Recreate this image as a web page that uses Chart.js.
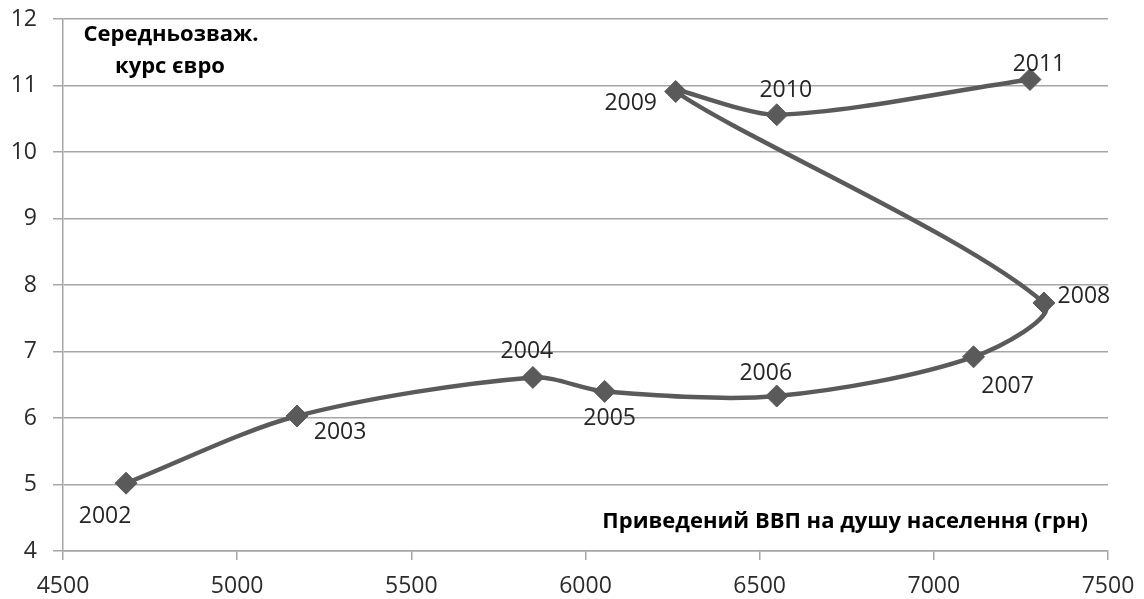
<!DOCTYPE html>
<html><head><meta charset="utf-8">
<script src="https://cdn.jsdelivr.net/npm/chart.js@4"></script>
<style>html,body{margin:0;padding:0;background:#fff;} #wrap{width:1144px;height:599px;position:relative;}</style>
</head><body><div id="wrap"><canvas id="c"></canvas></div>
<script>
const years = ['2002','2003','2004','2005','2006','2007','2008','2009','2010','2011'];
const gdpPerCapita = [4681, 5172, 5849, 6055, 6549, 7114, 7316, 6259, 6549, 7276];
const euroRate = [5.02, 6.03, 6.61, 6.40, 6.33, 6.92, 7.73, 10.91, 10.56, 11.09];
const xTickValues = [4500, 5000, 5500, 6000, 6500, 7000, 7500];
const yTickValues = [4, 5, 6, 7, 8, 9, 10, 11, 12];
const yTitleLines = ['Середньозваж.', 'курс євро'];
const xTitle = 'Приведений ВВП на душу населення (грн)';
// label placement relative to each marker (px)
const labelOffsets = [[-21,33],[43,16],[-6,-26],[5,27],[-11,-23],[34,30],[40,-7],[-45,12],[9,-24],[9,-15]];

const FONT = "'Open Sans', sans-serif";
const points = gdpPerCapita.map((x, i) => ({x: x, y: euroRate[i]}));

const labelPlugin = {
  id: 'labels',
  afterDatasetsDraw(chart) {
    const ctx = chart.ctx;
    const meta = chart.getDatasetMeta(0);
    ctx.save();
    ctx.font = "23px " + FONT;
    ctx.fillStyle = '#262626';
    ctx.textAlign = 'center';
    ctx.textBaseline = 'middle';
    meta.data.forEach((el, i) => {
      ctx.fillText(years[i], el.x + labelOffsets[i][0], el.y + labelOffsets[i][1]);
    });
    const a = chart.chartArea;
    ctx.font = "bold 22px " + FONT;
    ctx.fillStyle = '#000';
    ctx.fillText(yTitleLines[0], a.left + 108, a.top + 16);
    ctx.fillText(yTitleLines[1], a.left + 107, a.top + 48);
    ctx.textAlign = 'right';
    ctx.fillText(xTitle, a.right - 20, a.bottom - 29);
    ctx.restore();
  }
};

new Chart(document.getElementById('c'), {
  type: 'scatter',
  data: {
    datasets: [{
      data: points,
      showLine: true,
      borderColor: '#5a5a5a',
      borderWidth: 4.5,
      tension: 0.3,
      pointStyle: 'rectRot',
      pointRadius: 11,
      pointHoverRadius: 11,
      pointBackgroundColor: '#5a5a5a',
      pointBorderColor: '#5a5a5a',
      pointBorderWidth: 1
    }]
  },
  options: {
    responsive: true,
    maintainAspectRatio: false,
    animation: false,
    events: [],
    layout: {padding: {top: 19, right: 36, left: 0, bottom: 0}},
    plugins: {legend: {display: false}, tooltip: {enabled: false}},
    scales: {
      x: {
        type: 'linear', min: 4500, max: 7500,
        afterBuildTicks: s => { s.ticks = xTickValues.map(v => ({value: v})); },
        afterFit: s => { s.height = 48; s.paddingLeft = 0; s.paddingRight = 0; },
        ticks: {font: {family: FONT, size: 23}, color: '#2b2b2b', padding: 13, maxRotation: 0,
                callback: v => String(v)},
        grid: {drawOnChartArea: false, drawTicks: true, tickLength: 9, color: '#a6a6a6', lineWidth: 1.5},
        border: {color: '#a6a6a6', width: 1.5}
      },
      y: {
        min: 4, max: 12,
        afterBuildTicks: s => { s.ticks = yTickValues.map(v => ({value: v})); },
        afterFit: s => { s.width = 63; s.paddingTop = 0; s.paddingBottom = 0; },
        ticks: {font: {family: FONT, size: 23}, color: '#2b2b2b', padding: 16,
                callback: v => String(v)},
        grid: {color: '#a6a6a6', lineWidth: 1.5, tickLength: 10},
        border: {color: '#a6a6a6', width: 1.5}
      }
    }
  },
  plugins: [labelPlugin]
});
</script>
</body></html>
